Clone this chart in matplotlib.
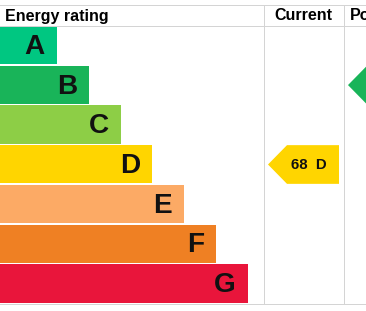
import matplotlib
matplotlib.use("Agg")
import matplotlib.pyplot as plt
from matplotlib.patches import Rectangle, Polygon

# EPC bands
bands = ["A", "B", "C", "D", "E", "F", "G"]
band_colors = ["#00c781", "#19b459", "#8dce46", "#ffd500", "#fcaa65", "#ef8023", "#e9153b"]
current_score = 68
current_band = "D"
potential_band = "B"
headers = ["Energy rating", "Current", "Potential"]

W, H = 366, 311
fig = plt.figure(figsize=(W / 72, H / 72), dpi=72)
ax = fig.add_axes([0, 0, 1, 1])
ax.set_xlim(0, W)
ax.set_ylim(H, 0)
ax.axis("off")

font = "Liberation Sans"
grid = "#d4d4d4"

top, head_bot, bottom = 5, 25.5, 304
col1, col2 = 264, 343.5
row_h = (bottom - 26) / len(bands)

# frame lines
ax.plot([0, W], [top, top], color=grid, lw=1)
ax.plot([0, W], [head_bot, head_bot], color=grid, lw=1)
ax.plot([0, W], [bottom, bottom], color=grid, lw=1)
ax.plot([col1, col1], [top, bottom], color=grid, lw=1)
ax.plot([col2, col2], [top, bottom], color=grid, lw=1)

# headers (the last one runs off the right edge, as in the source)
ax.text(5, 16, headers[0], fontsize=16, fontweight="bold", family=font, va="center", ha="left")
ax.text(303.5, 16, headers[1], fontsize=16, fontweight="bold", family=font, va="center", ha="center")
ax.text(350, 16, headers[2], fontsize=16, fontweight="bold", family=font, va="center", ha="left", clip_on=True)

# rating bars
for i, (b, c) in enumerate(zip(bands, band_colors)):
    y0 = 26 + i * row_h
    w = 57 + i * 31.8
    ax.add_patch(Rectangle((0, y0), w, row_h - 1.5, color=c, lw=0))
    ax.text(w - 12, y0 + row_h / 2 + 1, b, fontsize=28, fontweight="bold", family=font,
            ha="right", va="center", color="#111111")


def arrow(x_tip, band, text=None):
    i = bands.index(band)
    y0 = 26 + i * row_h
    y1 = y0 + row_h - 1
    ym = (y0 + y1) / 2
    body = x_tip + 19
    pts = [(x_tip, ym), (body, y0), (x_tip + 71, y0), (x_tip + 71, y1), (body, y1)]
    ax.add_patch(Polygon(pts, closed=True, color=band_colors[i], lw=0))
    if text:
        ax.text(308.5, ym + 0.5, text, fontsize=15, fontweight="bold", family=font,
                ha="center", va="center", color="#111111")


arrow(268, current_band, f"{current_score}  {current_band}")
arrow(348, potential_band)

fig.savefig("out.png", dpi=72)
